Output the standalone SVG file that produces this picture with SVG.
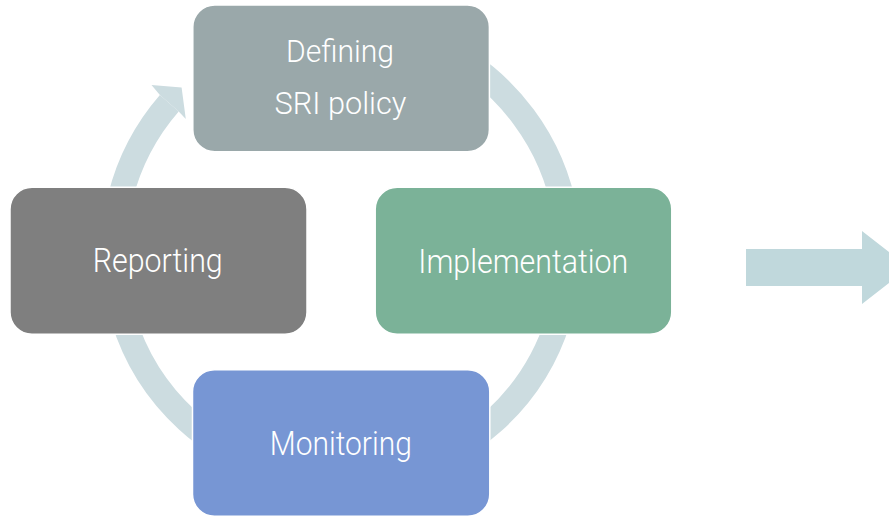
<svg xmlns="http://www.w3.org/2000/svg" width="889" height="516" viewBox="0 0 889 516">
<style>
.box{stroke:#ffffff;stroke-width:1.5}
.lbl{font-family:Roboto,"Open Sans","Liberation Sans",sans-serif;font-weight:300;fill:#ffffff;text-anchor:middle}
.big{font-size:33px}
.small{font-size:31px}
.ring{fill:none;stroke:#CCDCE0;stroke-width:25}
</style>
<rect width="889" height="516" fill="#ffffff"/>
<g id="connectors">
<path class="ring" d="M210.5,66.1 A227.5,227.5 0 1 1 169.3,103.2"/>
<polygon fill="#CCDCE0" points="151.5,85 181.6,87.6 185.8,119 178.7,111.4 159.9,95"/>
<polygon fill="#C0D8DC" points="746,249 862,249 862,231 909,267.5 862,304 862,286 746,286"/>
</g>
<g id="node-defining">
<rect class="box" x="192.8" y="5" width="296.6" height="146.8" rx="22" fill="#9AA8AA"/>
<text class="lbl small" x="340" y="61.5" textLength="108" lengthAdjust="spacingAndGlyphs">Defining</text>
<text class="lbl small" x="340.5" y="114" textLength="132" lengthAdjust="spacingAndGlyphs">SRI policy</text>
</g>
<g id="node-reporting">
<rect class="box" x="10" y="187.2" width="297" height="147" rx="22" fill="#7F7F7F"/>
<text class="lbl big" x="157.7" y="272" textLength="130" lengthAdjust="spacingAndGlyphs">Reporting</text>
</g>
<g id="node-implementation">
<rect class="box" x="375.2" y="187.2" width="296.6" height="147" rx="22" fill="#7BB298"/>
<text class="lbl big" x="523.3" y="272.5" textLength="210" lengthAdjust="spacingAndGlyphs">Implementation</text>
</g>
<g id="node-monitoring">
<rect class="box" x="192.5" y="369.7" width="297.3" height="146.5" rx="22" fill="#7796D4"/>
<text class="lbl big" x="340.8" y="455" textLength="142" lengthAdjust="spacingAndGlyphs">Monitoring</text>
</g>
</svg>
